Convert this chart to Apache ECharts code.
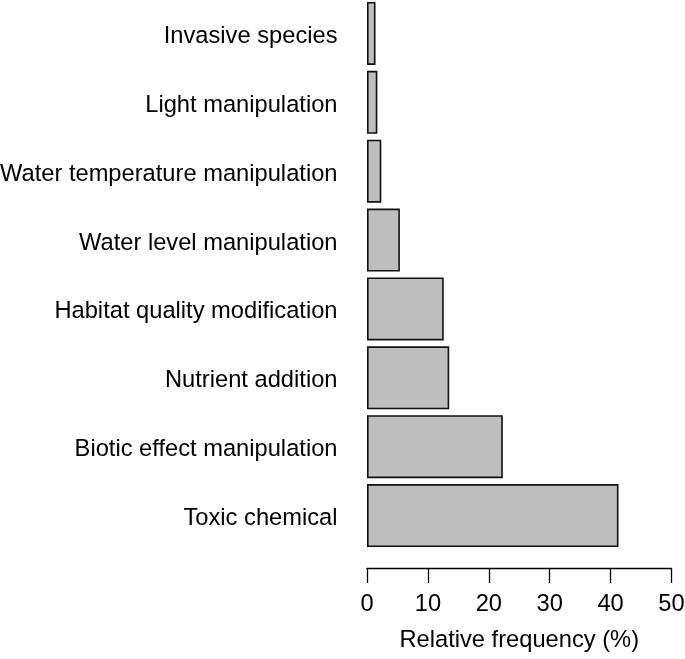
<!DOCTYPE html>
<html>
<head>
<meta charset="utf-8">
<script src="https://cdn.jsdelivr.net/npm/echarts@6/dist/echarts.min.js"></script>
<style>
html,body{margin:0;padding:0;background:#fff;}
#chart{width:685px;height:659px;}
</style>
</head>
<body>
<div id="chart"></div>
<script>
const categories = [
  "Toxic chemical",
  "Biotic effect manipulation",
  "Nutrient addition",
  "Habitat quality modification",
  "Water level manipulation",
  "Water temperature manipulation",
  "Light manipulation",
  "Invasive species"
];
const frequency = [41.3, 22.3, 13.5, 12.6, 5.4, 2.35, 1.7, 1.4];
const xTicks = { min: 0, max: 50, interval: 10 };
const xTitle = "Relative frequency (%)";

const FONT = "'Liberation Sans', Arial, Helvetica, sans-serif";
const FS = 23.7;
const chart = echarts.init(document.getElementById('chart'), null, { renderer: 'canvas' });
chart.setOption({
  animation: false,
  backgroundColor: '#ffffff',
  grid: { left: 367, right: 13.5, top: -1, height: 551, containLabel: false, outerBoundsMode: 'none' },
  xAxis: {
    type: 'value',
    min: xTicks.min, max: xTicks.max, interval: xTicks.interval,
    position: 'bottom',
    offset: 18,
    name: xTitle,
    nameLocation: 'middle',
    nameGap: 60,
    nameTextStyle: { fontFamily: FONT, fontSize: FS, color: '#000' },
    axisLine: { show: true, lineStyle: { color: '#000', width: 1.3 } },
    axisTick: { show: true, inside: false, length: 15, lineStyle: { color: '#000', width: 1.3 } },
    axisLabel: { fontFamily: FONT, fontSize: FS, color: '#000', margin: 24 },
    splitLine: { show: false }
  },
  yAxis: {
    type: 'category',
    data: categories,
    axisLine: { show: false },
    axisTick: { show: false },
    axisLabel: {
      fontFamily: FONT, fontSize: FS, color: '#000', margin: 29.5,
      formatter: v => '{a|' + v + '}',
      rich: { a: { fontFamily: FONT, fontSize: FS, color: '#000', padding: [6, 0, 0, 0] } }
    },
    splitLine: { show: false }
  },
  series: [{
    type: 'bar',
    data: frequency,
    barCategoryGap: '8.5%',
    itemStyle: { color: '#bebebe', borderColor: '#111', borderWidth: 1.6 }
  }]
});
</script>
</body>
</html>
